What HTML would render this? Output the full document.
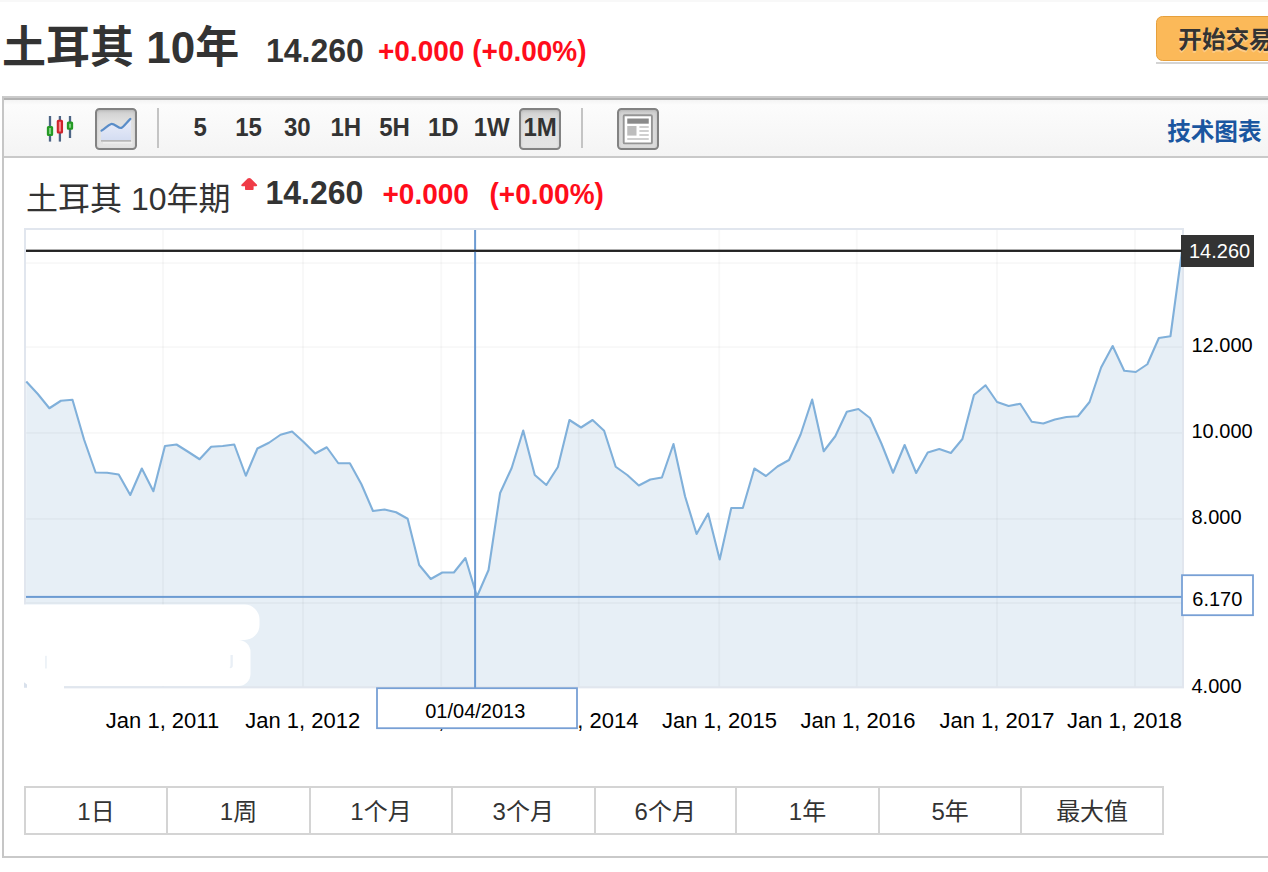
<!DOCTYPE html>
<html lang="zh-CN"><head><meta charset="utf-8"><title>土耳其 10年</title>
<style>
html,body{margin:0;padding:0;background:#fff}
body{width:1268px;height:872px;overflow:hidden;position:relative;font-family:"Liberation Sans","Noto Sans CJK SC",sans-serif;color:#333}
.abs{position:absolute;white-space:nowrap;line-height:1}
.sy{transform:scaleY(1.045);transform-origin:0 84.65%}
#h1{left:2px;top:26px;font-size:44px;font-weight:bold;color:#333;margin:0}
#tp{left:266px;top:35px;font-size:32px;font-weight:bold;color:#333}
#tc{left:378px;top:38px;font-size:28px;font-weight:bold;color:#ff0d1b}
#btn{left:1156px;top:16px;width:140px;height:42.5px;border:1.7px solid #e6a03c;border-radius:6.5px;background:#fbb959;font-size:24px;font-weight:bold;color:#333;}
#btn span{position:absolute;left:21.3px;top:12.2px;line-height:1;font-size:23.6px;text-shadow:0 1.5px 0 rgba(255,255,255,.3)}
#btnsh{position:absolute;left:1156px;top:62px;width:120px;height:2px;background:#d4d4d4}
#box{position:absolute;left:2px;top:96px;width:1290px;height:758px;border-left:2px solid #c6c6c6;border-bottom:2px solid #c9c9c9;border-top:2px solid #cbcbcb;box-sizing:content-box}
#tb{position:absolute;left:4px;top:98px;width:1290px;height:56px;background:linear-gradient(#f4f4f4,#fcfcfc 9%,#f4f4f4);border-top:2px solid #b2b2b2;border-bottom:2px solid #c9c9c9}
.tbt{font-size:24px;font-weight:bold;color:#333;top:116px}
.pbtn{position:absolute;box-sizing:border-box;border:2px solid #828282;border-radius:4.5px;background:linear-gradient(#cfcfcf,#e0e0e0 30%,#e4e4e4);box-shadow:inset 0 1px 3px rgba(0,0,0,.12)}
.sep{position:absolute;width:2px;background:#c4c4c4;top:108px;height:40px}
#tech{left:1167.2px;top:120.6px;font-size:23.6px;font-weight:bold;color:#1a56a0}
#ct{left:26px;top:183px;font-size:32px;color:#333}
#cp{left:265.5px;top:177px;font-size:32px;font-weight:bold;color:#333}
#cc1{left:382.5px;top:180.8px;font-size:28px;font-weight:bold;color:#ff0d1b}
#cc2{left:489.5px;top:180.8px;font-size:28px;font-weight:bold;color:#ff0d1b}
#rng{position:absolute;left:0;top:785.8px;width:1268px;height:49.6px}
#rng:before,#rng:after{content:"";position:absolute;left:24px;width:1140.1px;height:2px;background:#d4d4d4;top:0}
#rng:after{top:47.6px}
.rc{position:absolute;top:2px;height:45.5px;text-align:center;font-size:24px;line-height:47.5px;color:#333}
.rd{position:absolute;top:0;width:2px;height:49.6px;background:#d4d4d4}
svg text{font-family:"Liberation Sans","Noto Sans CJK SC",sans-serif;fill:#000}
</style></head><body>
<div style="position:absolute;left:0;top:0;width:1268px;height:1.5px;background:#f8f8f8"></div>
<h1 id="h1" class="abs">土耳其 10年</h1>
<div id="tp" class="abs sy">14.260</div>
<div id="tc" class="abs sy">+0.000 (+0.00%)</div>
<div id="btnsh"></div>
<div id="btn" class="abs"><span>开始交易</span></div>

<div id="box"></div>
<div id="tb"></div>

<svg class="abs" style="left:44px;top:112px" width="34" height="34" viewBox="44 112 34 34">
 <g stroke="#4d6585" stroke-width="2.3"><line x1="50" y1="116" x2="50" y2="141.6"/><line x1="59.9" y1="116" x2="59.9" y2="141.6"/><line x1="70" y1="116" x2="70" y2="138"/></g>
 <rect x="47.9" y="127" width="4.2" height="8" rx="0.5" fill="#7fd07f" stroke="#249a24" stroke-width="2.1"/>
 <rect x="57.8" y="120.8" width="4.2" height="11.7" rx="0.5" fill="#f58a90" stroke="#cf232b" stroke-width="2.1"/>
 <rect x="67.9" y="122.6" width="4.2" height="6.1" rx="0.5" fill="#7fd07f" stroke="#249a24" stroke-width="2.1"/>
</svg>
<div class="pbtn" style="left:95px;top:108px;width:42px;height:42px"></div>
<svg class="abs" style="left:95px;top:108px" width="42" height="42" viewBox="95 108 42 42">
 <defs><linearGradient id="lg" x1="0" y1="0" x2="0" y2="1"><stop offset="0" stop-color="#eceffa"/><stop offset="1" stop-color="#d4ddf2"/></linearGradient></defs>
 <path d="M101,130.9 C105,128.4 108.2,125 111.2,124 C114.2,123.4 118.2,128.2 121.2,128 C123.4,127.2 127,122 131,118.6 L131,140.2 L101,140.2 Z" fill="url(#lg)"/>
 <path d="M101.5,130.7 C105,128.4 108.2,125 111.2,124 C114.2,123.4 118.2,128.2 121.2,128 C123.4,127.2 127,122 130.4,118.9" fill="none" stroke="#5a8dc8" stroke-width="2.2" stroke-linejoin="round" stroke-linecap="round"/>
 <rect x="101" y="140.1" width="30" height="1.5" fill="#b2b2b2"/>
 <rect x="103" y="142.2" width="29" height="1.3" fill="#f0f0f0"/>
</svg>
<div class="sep" style="left:157px"></div>
<div class="abs tbt sy" style="left:193.5px">5</div>
<div class="abs tbt sy" style="left:235.25px">15</div>
<div class="abs tbt sy" style="left:284px">30</div>
<div class="abs tbt sy" style="left:330.5px">1H</div>
<div class="abs tbt sy" style="left:379.25px">5H</div>
<div class="abs tbt sy" style="left:428px">1D</div>
<div class="abs tbt sy" style="left:473.75px">1W</div>
<div class="pbtn" style="left:519px;top:108px;width:42px;height:42px"></div>
<div class="abs tbt sy" style="left:523.5px">1M</div>
<div class="sep" style="left:581px"></div>
<div class="pbtn" style="left:617px;top:108px;width:42px;height:42px;background:linear-gradient(#cfcfcf,#dadada 30%,#dcdcdc)"></div>
<svg class="abs" style="left:617px;top:108px" width="42" height="42" viewBox="617 108 42 42">
 <rect x="623.7" y="115.2" width="28.2" height="28.2" rx="1" fill="#fff" stroke="#959595" stroke-width="1.9"/>
 <rect x="627.25" y="118.5" width="21.5" height="5.2" fill="#8a8a8a"/>
 <rect x="627.25" y="126" width="9.25" height="9.6" fill="#bdbdbd"/>
 <rect x="639.4" y="126" width="9.35" height="2" fill="#cfcfcf"/>
 <rect x="639.4" y="130" width="9.35" height="2" fill="#cfcfcf"/>
 <rect x="639.4" y="134" width="9.35" height="2" fill="#cfcfcf"/>
 <rect x="627.25" y="138" width="21.5" height="2" fill="#cfcfcf"/>
</svg>
<div id="tech" class="abs">技术图表</div>

<div id="ct" class="abs">土耳其 10年期</div>
<svg class="abs" style="left:240px;top:176px" width="20" height="16" viewBox="240 176 20 16">
 <path d="M247.6,178.6 Q249.2,177.4 250.8,178.6 L256.8,184.6 Q257.8,186.3 256,186.3 L253.6,186.3 L253.6,189.2 Q253.6,190 252.8,190 L245.8,190 Q245,190 245,189.2 L245,186.3 L242.4,186.3 Q240.6,186.3 241.6,184.6 Z" fill="#ef3c48"/>
</svg>
<div id="cp" class="abs sy">14.260</div>
<div id="cc1" class="abs sy">+0.000</div>
<div id="cc2" class="abs sy">(+0.00%)</div>

<svg class="abs" style="left:0;top:220px" width="1268" height="520" viewBox="0 220 1268 520">
 <rect x="25" y="229" width="1158" height="458.2" fill="#fff" stroke="#e1e6ee" stroke-width="2"/>
 <path d="M26.25,381.5 L37.81,394 L49.36,408.25 L60.92,400.75 L72.48,399.75 L84.04,439.5 L95.59,472.5 L107.15,472.75 L118.71,474.5 L130.27,495 L141.82,468.5 L153.38,491.25 L164.94,446 L176.5,444.5 L188.05,451.75 L199.61,459.25 L211.17,446.75 L222.73,446 L234.28,444.5 L245.84,475.75 L257.4,448.5 L268.96,442.75 L280.51,434.75 L292.07,431.5 L303.63,442 L315.19,453.5 L326.75,447.25 L338.3,463.25 L349.86,463.25 L361.42,484.25 L372.97,511 L384.53,509.5 L396.09,512.25 L407.65,518.75 L419.2,565 L430.76,579 L442.32,572.5 L453.88,572.5 L465.43,558 L476.99,596.5 L488.55,570 L500.11,493 L511.66,468 L523.22,430.5 L534.78,475 L546.34,485 L557.89,467 L569.45,420 L581.01,427.5 L592.57,420 L604.12,430.75 L615.68,466.75 L627.24,475 L638.8,485.5 L650.35,479.5 L661.91,477.5 L673.47,444 L685.03,496.25 L696.58,534 L708.14,513.5 L719.7,559.5 L731.26,508 L742.81,508 L754.37,468.5 L765.93,476 L777.49,466.5 L789.04,460 L800.6,434.5 L812.16,399.5 L823.72,451.25 L835.27,436.25 L846.83,411.75 L858.39,409 L869.95,418 L881.5,443.75 L893.06,472.75 L904.62,445 L916.18,473 L927.73,452.5 L939.29,449 L950.85,453 L962.41,439 L973.96,395 L985.52,385.25 L997.08,402 L1008.64,406 L1020.19,403.75 L1031.75,421.75 L1043.31,423.5 L1054.87,419.5 L1066.42,417 L1077.98,416.25 L1089.54,402 L1101.1,367.5 L1112.65,346 L1124.21,370.75 L1135.77,372 L1147.33,364.25 L1158.88,338 L1170.44,336.25 L1182.0,251 L1183,251 L1183,686.6 L26,686.6 Z" fill="#e7eff6"/>
 <rect x="26" y="262.1" width="1157" height="2" fill="#000" fill-opacity="0.028"/><rect x="26" y="346.1" width="1157" height="2" fill="#000" fill-opacity="0.028"/><rect x="26" y="431.9" width="1157" height="2" fill="#000" fill-opacity="0.028"/><rect x="26" y="517.9" width="1157" height="2" fill="#000" fill-opacity="0.028"/><rect x="26" y="602" width="1157" height="2" fill="#000" fill-opacity="0.028"/><rect x="162" y="230" width="2" height="458" fill="#000" fill-opacity="0.028"/><rect x="302" y="230" width="2" height="458" fill="#000" fill-opacity="0.028"/><rect x="440.25" y="230" width="2" height="458" fill="#000" fill-opacity="0.028"/><rect x="577.75" y="230" width="2" height="458" fill="#000" fill-opacity="0.028"/><rect x="718.25" y="230" width="2" height="458" fill="#000" fill-opacity="0.028"/><rect x="855.75" y="230" width="2" height="458" fill="#000" fill-opacity="0.028"/><rect x="996" y="230" width="2" height="458" fill="#000" fill-opacity="0.028"/><rect x="1134" y="230" width="2" height="458" fill="#000" fill-opacity="0.028"/>
 <rect x="25" y="229" width="1158" height="458.2" fill="none" stroke="#e1e6ee" stroke-width="2"/>
 <path d="M26.25,381.5 L37.81,394 L49.36,408.25 L60.92,400.75 L72.48,399.75 L84.04,439.5 L95.59,472.5 L107.15,472.75 L118.71,474.5 L130.27,495 L141.82,468.5 L153.38,491.25 L164.94,446 L176.5,444.5 L188.05,451.75 L199.61,459.25 L211.17,446.75 L222.73,446 L234.28,444.5 L245.84,475.75 L257.4,448.5 L268.96,442.75 L280.51,434.75 L292.07,431.5 L303.63,442 L315.19,453.5 L326.75,447.25 L338.3,463.25 L349.86,463.25 L361.42,484.25 L372.97,511 L384.53,509.5 L396.09,512.25 L407.65,518.75 L419.2,565 L430.76,579 L442.32,572.5 L453.88,572.5 L465.43,558 L476.99,596.5 L488.55,570 L500.11,493 L511.66,468 L523.22,430.5 L534.78,475 L546.34,485 L557.89,467 L569.45,420 L581.01,427.5 L592.57,420 L604.12,430.75 L615.68,466.75 L627.24,475 L638.8,485.5 L650.35,479.5 L661.91,477.5 L673.47,444 L685.03,496.25 L696.58,534 L708.14,513.5 L719.7,559.5 L731.26,508 L742.81,508 L754.37,468.5 L765.93,476 L777.49,466.5 L789.04,460 L800.6,434.5 L812.16,399.5 L823.72,451.25 L835.27,436.25 L846.83,411.75 L858.39,409 L869.95,418 L881.5,443.75 L893.06,472.75 L904.62,445 L916.18,473 L927.73,452.5 L939.29,449 L950.85,453 L962.41,439 L973.96,395 L985.52,385.25 L997.08,402 L1008.64,406 L1020.19,403.75 L1031.75,421.75 L1043.31,423.5 L1054.87,419.5 L1066.42,417 L1077.98,416.25 L1089.54,402 L1101.1,367.5 L1112.65,346 L1124.21,370.75 L1135.77,372 L1147.33,364.25 L1158.88,338 L1170.44,336.25 L1182.0,251" fill="none" stroke="#80b0da" stroke-width="2.1" stroke-linejoin="round"/>
 <rect x="26" y="249.8" width="1156" height="2" fill="#222"/>
 <rect x="1181" y="235" width="73" height="32" fill="#333"/>
 <text transform="translate(0,258.3) scale(1,1.045)" x="1189" y="0" font-size="20" text-anchor="start" style="fill:#fff">14.260</text>
 <g id="blob" fill="#fff"><path d="M23.5,604.5 H244.5 A15,15 0 0 1 259.5,619.5 V625 A15,15 0 0 1 244.5,640 H23.5 Z"/><path d="M23.5,640 H238.5 A12,12 0 0 1 250.5,652 V674 A12,12 0 0 1 238.5,686 H64 V689 H23.5 Z"/><rect x="45.2" y="655.8" width="1.5" height="12.7" fill="#e9eff6"/><path d="M24,682.2 L27,684.5 V687.8 H24 Z" fill="#d9e1ec"/><path d="M230.5,655 h2.3 v10.5 q0,2.8 -3,2.8 v-1.2 q0.7,-0.2 0.7,-1.8 Z" fill="#e9eff6"/></g>
 <text transform="translate(0,728) scale(1,1.045)" x="162.5" y="0" font-size="22" text-anchor="middle">Jan 1, 2011</text><text transform="translate(0,728) scale(1,1.045)" x="302.75" y="0" font-size="22" text-anchor="middle">Jan 1, 2012</text><text transform="translate(0,728) scale(1,1.045)" x="442" y="0" font-size="22" text-anchor="middle">Jan 1, 2013</text><text transform="translate(0,728) scale(1,1.045)" x="581" y="0" font-size="22" text-anchor="middle">Jan 1, 2014</text><text transform="translate(0,728) scale(1,1.045)" x="719.5" y="0" font-size="22" text-anchor="middle">Jan 1, 2015</text><text transform="translate(0,728) scale(1,1.045)" x="858" y="0" font-size="22" text-anchor="middle">Jan 1, 2016</text><text transform="translate(0,728) scale(1,1.045)" x="997" y="0" font-size="22" text-anchor="middle">Jan 1, 2017</text><text transform="translate(0,728) scale(1,1.045)" x="1182" y="0" font-size="22" text-anchor="end">Jan 1, 2018</text>
 <text transform="translate(0,352.2) scale(1,1.045)" x="1191.5" y="0" font-size="20" text-anchor="start">12.000</text><text transform="translate(0,437.6) scale(1,1.045)" x="1191.5" y="0" font-size="20" text-anchor="start">10.000</text><text transform="translate(0,523.5) scale(1,1.045)" x="1191.5" y="0" font-size="20" text-anchor="start">8.000</text><text transform="translate(0,693.3) scale(1,1.045)" x="1191.5" y="0" font-size="20" text-anchor="start">4.000</text>
 <rect x="26" y="595.9" width="1156" height="2" fill="#6c9bd2"/>
 <rect x="474.1" y="230" width="2" height="458" fill="#6c9bd2"/>
 <rect x="26" y="249.8" width="1156" height="2" fill="#222"/>
 <rect x="1182" y="575.2" width="71" height="40" fill="#fff" stroke="#78a0d5" stroke-width="1.8"/>
 <text transform="translate(0,606) scale(1,1.045)" x="1192.3" y="0" font-size="20" text-anchor="start">6.170</text>
 <rect x="377" y="688.2" width="200" height="40" fill="#fff" stroke="#78a0d5" stroke-width="1.8"/>
 <text transform="translate(0,718) scale(1,1.045)" x="475.25" y="0" font-size="20" text-anchor="middle">01/04/2013</text>
</svg>

<div id="rng"><div class="rc" style="left:25px;width:142px">1日</div><div class="rc" style="left:167px;width:143px">1周</div><div class="rc" style="left:310px;width:142px">1个月</div><div class="rc" style="left:452px;width:142.5px">3个月</div><div class="rc" style="left:594.5px;width:141.5px">6个月</div><div class="rc" style="left:736px;width:143px">1年</div><div class="rc" style="left:879px;width:142.20000000000005px">5年</div><div class="rc" style="left:1021.2px;width:141.89999999999986px">最大值</div><div class="rd" style="left:24px"></div><div class="rd" style="left:166px"></div><div class="rd" style="left:309px"></div><div class="rd" style="left:451px"></div><div class="rd" style="left:593.5px"></div><div class="rd" style="left:735px"></div><div class="rd" style="left:878px"></div><div class="rd" style="left:1020.2px"></div><div class="rd" style="left:1162.1px"></div></div>
</body></html>
